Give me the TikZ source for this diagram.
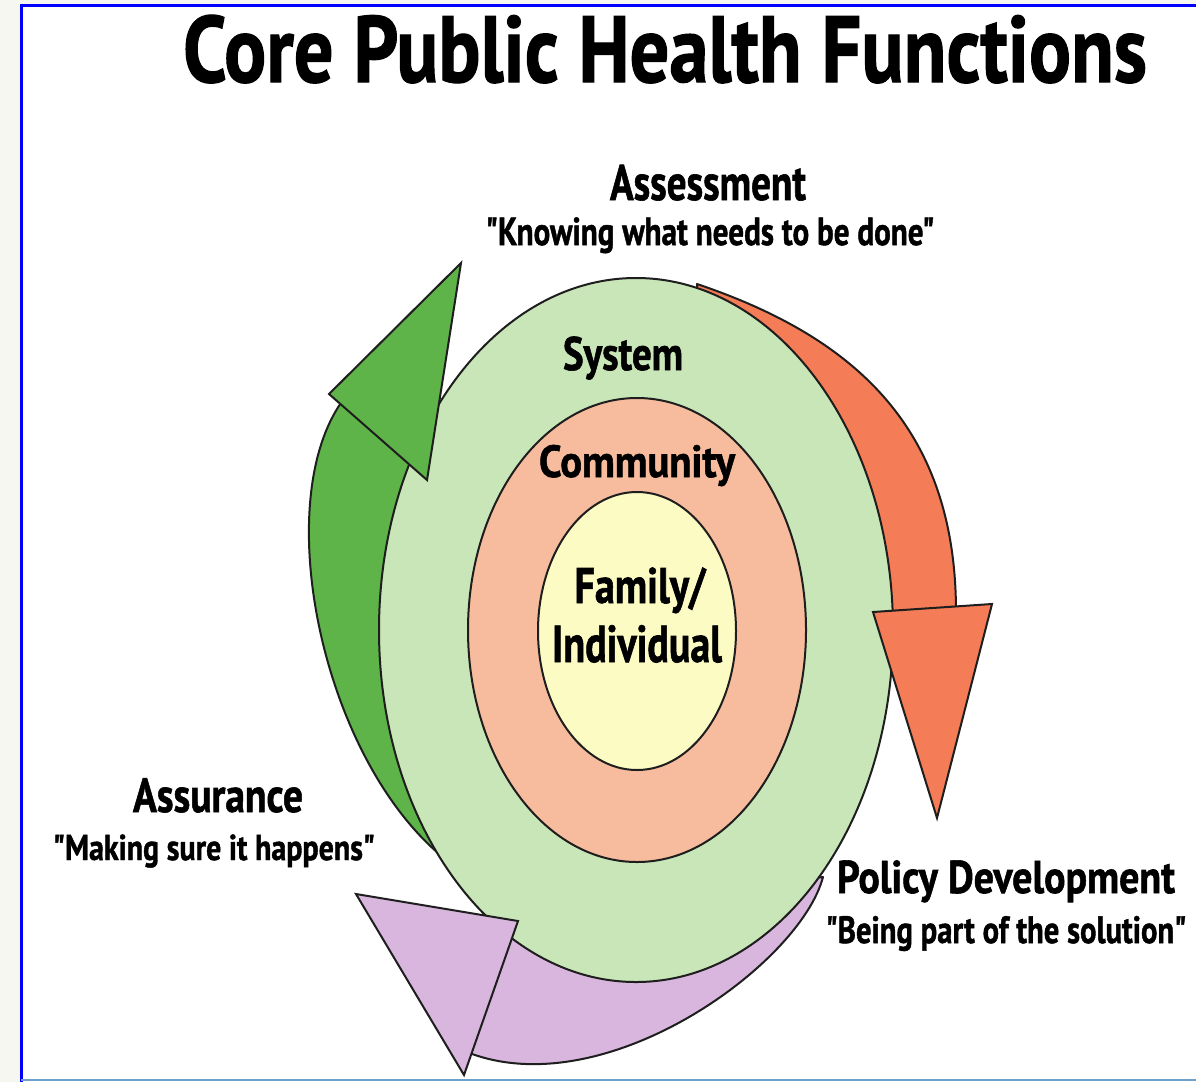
\documentclass[tikz,border=0pt]{standalone}
\usepackage{fontspec}
\setmainfont{PT Sans}[Ligatures=TeXOff, BoldFeatures={FakeBold=1.3}]
\usepackage{graphicx}
\definecolor{sysgreen}{RGB}{201,230,184}
\definecolor{commsalmon}{RGB}{247,188,158}
\definecolor{famyellow}{RGB}{253,251,196}
\definecolor{arrgreen}{RGB}{94,180,72}
\definecolor{arrred}{RGB}{244,124,86}
\definecolor{arrpurple}{RGB}{216,182,221}
\definecolor{outl}{RGB}{30,30,30}
\definecolor{leftstrip}{RGB}{245,247,240}
\definecolor{framecol}{RGB}{0,0,255}
\definecolor{bottomcol}{RGB}{110,160,205}
\tikzset{
  shape outline/.style={draw=outl, line width=2pt},
  bandshape/.style={shape outline, line join=round},
  headshape/.style={shape outline, line join=miter},
  txt/.style={inner sep=0pt, outer sep=0pt, anchor=base, text=black, font=\bfseries},
}
\newcommand{\fittext}[3]{\resizebox{#1pt}{\height}{\fontsize{#2}{#2}\selectfont #3}}
\begin{document}
\begin{tikzpicture}[x=1pt,y=-1pt]
\useasboundingbox (0,0) rectangle (1196,1082);
\fill[white] (0,0) rectangle (1196,1082);
\fill[leftstrip] (0,0) rectangle (20,1082);
\fill[leftstrip] (0,0) rectangle (1196,4);
\draw[framecol, line width=3pt] (21.5,1082) -- (21.5,5.5) -- (1196,5.5);
\draw[bottomcol, line width=2pt] (21,1080) -- (1196,1080);

% bands (behind the rings)
\filldraw[fill=arrred, bandshape] (697,284) .. controls (857,338) and (956,430) .. (956,612) -- (890,616) -- (700,450) -- cycle;
\filldraw[fill=arrgreen, bandshape] (438,853) .. controls (320,750) and (270,500) .. (343,400) -- (412,458) -- (520,640) -- cycle;
\filldraw[fill=arrpurple, bandshape] (823,877) .. controls (800,965) and (600,1110) .. (462,1050) -- (500,935) -- (650,900) -- cycle;

% rings
\filldraw[fill=sysgreen, shape outline] (636,630) ellipse [x radius=257pt, y radius=352pt];
\filldraw[fill=commsalmon, shape outline] (637,630) ellipse [x radius=169pt, y radius=232pt];
\filldraw[fill=famyellow, shape outline] (637,631) ellipse [x radius=99pt, y radius=139pt];

% arrow heads
\filldraw[fill=arrgreen, headshape] (461,263) -- (329,394) -- (427,480) -- cycle;
\filldraw[fill=arrred, headshape] (873,612) -- (992,604) -- (937,818) -- cycle;
\filldraw[fill=arrpurple, headshape] (356,894) -- (518,921) -- (464,1075) -- cycle;

% texts
\node[txt] (title) at (665,82) {\fittext{964}{94}{Core Public Health Functions}};
\node[txt] (assess) at (708,200) {\fittext{196}{50}{Assessment}};
\node[txt] (assessq) at (710,245) {\fittext{449}{39}{"Knowing what needs to be done"}};
\node[txt] (system) at (623,370) {\fittext{120}{47}{System}};
\node[txt] (community) at (637,477) {\fittext{196}{45}{Community}};
\node[txt] (family) at (640,603) {\fittext{131}{50}{Family/}};
\node[txt] (individual) at (637,662) {\fittext{170}{52}{Individual}};
\node[txt] (assure) at (218,812) {\fittext{170}{48}{Assurance}};
\node[txt] (assureq) at (214,860) {\fittext{322}{36}{"Making sure it happens"}};
\node[txt] (policy) at (1006,893) {\fittext{338}{46}{Policy Development}};
\node[txt] (policyq) at (1006,943) {\fittext{361}{38}{"Being part of the solution"}};
\end{tikzpicture}
\end{document}
